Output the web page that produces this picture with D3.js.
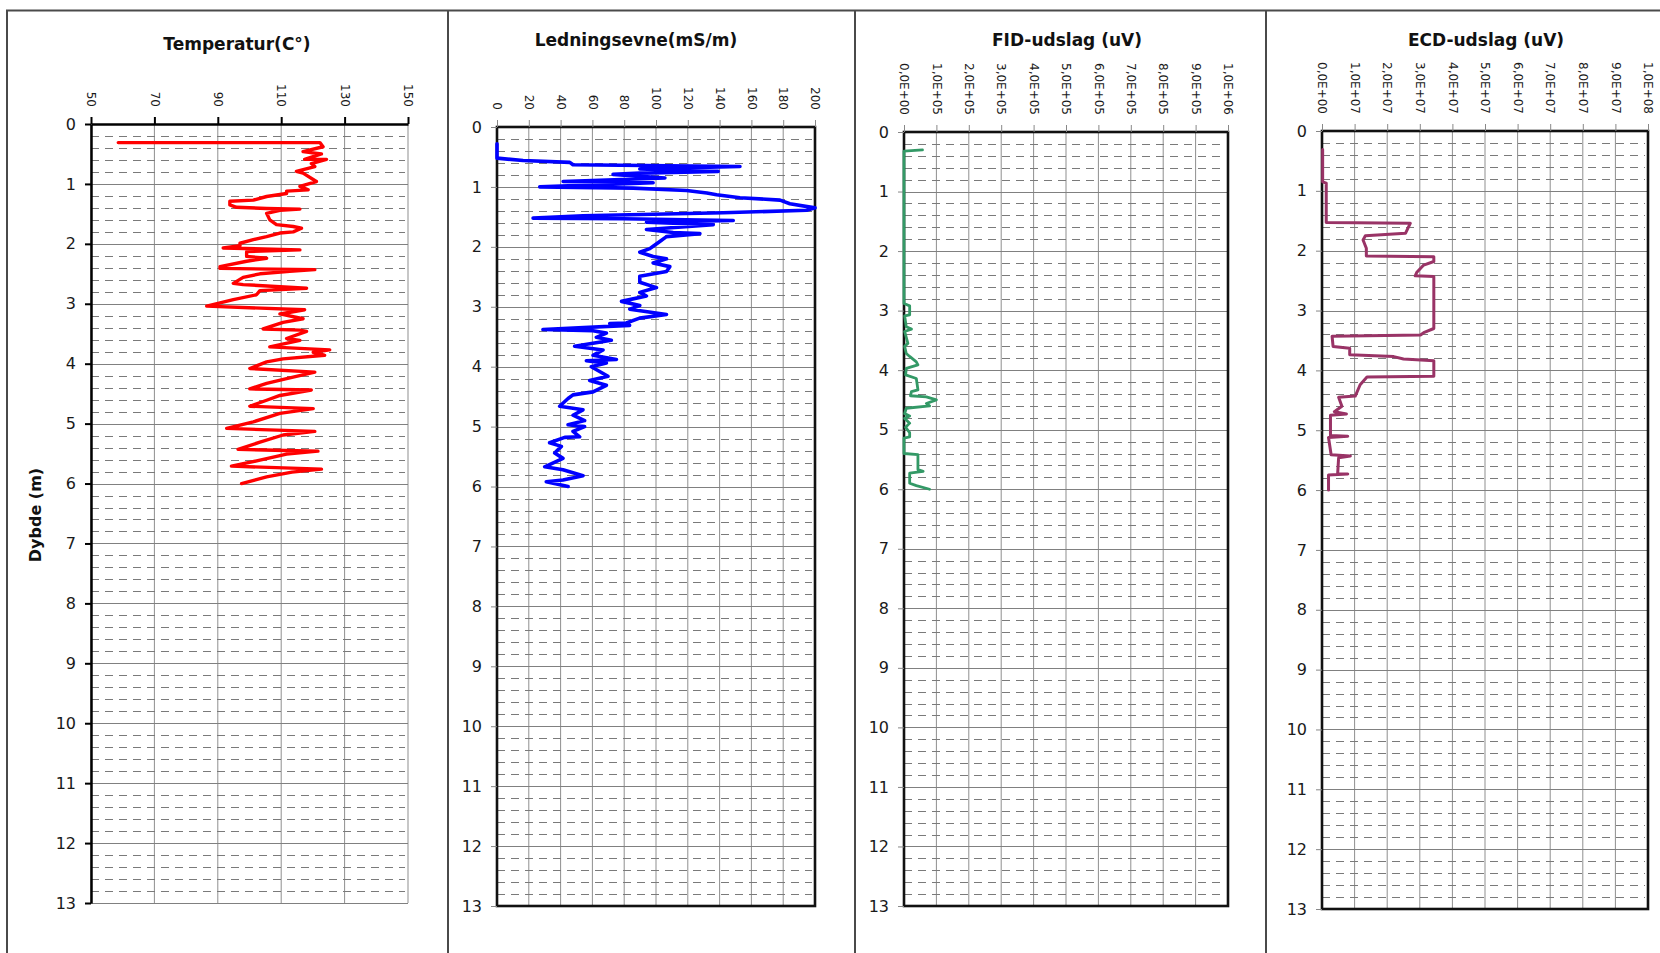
<!DOCTYPE html>
<html>
<head>
<meta charset="utf-8">
<script src="https://cdn.jsdelivr.net/npm/d3@7"></script>
<style>
  html, body { margin: 0; padding: 0; background: #fff; }
  svg { display: block; }
  text { font-family: "DejaVu Sans", Verdana, sans-serif; }
</style>
</head>
<body>
<svg id="chart" width="1660" height="953"></svg>
<script>
// ---- depth axis (shared by all four logs) ----
const depthTicks = [0, 1, 2, 3, 4, 5, 6, 7, 8, 9, 10, 11, 12, 13];
const depthLabel = "Dybde (m)";

// ---- titles ----
const titles = ["Temperatur(C°)", "Ledningsevne(mS/m)", "FID-udslag (uV)", "ECD-udslag (uV)"];

// ---- value axes ----
const tempTicks = [50, 70, 90, 110, 130, 150];
const tempTickLabels = ["50", "70", "90", "110", "130", "150"];
const condTicks = [0, 20, 40, 60, 80, 100, 120, 140, 160, 180, 200];
const condTickLabels = ["0", "20", "40", "60", "80", "100", "120", "140", "160", "180", "200"];
const fidTicks = [0, 1e5, 2e5, 3e5, 4e5, 5e5, 6e5, 7e5, 8e5, 9e5, 1e6];
const fidTickLabels = ["0,0E+00", "1,0E+05", "2,0E+05", "3,0E+05", "4,0E+05", "5,0E+05",
                       "6,0E+05", "7,0E+05", "8,0E+05", "9,0E+05", "1,0E+06"];
const ecdTicks = [0, 1e7, 2e7, 3e7, 4e7, 5e7, 6e7, 7e7, 8e7, 9e7, 1e8];
const ecdTickLabels = ["0,0E+00", "1,0E+07", "2,0E+07", "3,0E+07", "4,0E+07", "5,0E+07",
                       "6,0E+07", "7,0E+07", "8,0E+07", "9,0E+07", "1,0E+08"];

// ---- temperature log (depth m, °C) ----
const tempDepth = [
  0.31, 0.31, 0.38, 0.46, 0.50, 0.59, 0.59, 0.66, 0.71, 0.79,
  0.82, 0.96, 1.04, 1.10, 1.12, 1.16, 1.21, 1.27, 1.29, 1.35,
  1.39, 1.41, 1.42, 1.44, 1.49, 1.60, 1.68, 1.71, 1.74, 1.80,
  1.82, 1.88, 1.93, 1.99, 2.03, 2.07, 2.10, 2.13, 2.21, 2.24,
  2.29, 2.38, 2.41, 2.43, 2.46, 2.50, 2.56, 2.66, 2.68, 2.74,
  2.78, 2.85, 2.93, 3.04, 3.10, 3.17, 3.25, 3.31, 3.42, 3.44,
  3.46, 3.58, 3.61, 3.72, 3.77, 3.81, 3.86, 3.92, 3.97, 4.08,
  4.14, 4.25, 4.33, 4.42, 4.44, 4.53, 4.61, 4.71, 4.75, 4.83,
  4.97, 5.08, 5.13, 5.19, 5.31, 5.43, 5.46, 5.51, 5.61, 5.71,
  5.76, 5.81, 5.89, 6.00
];
const tempValue = [
  58.6, 122.2, 123.2, 116.9, 122.7, 117.4, 124.3, 119.5, 120.6, 114.8,
  116.9, 121.1, 115.9, 118.5, 111.7, 111.7, 105.4, 101.2, 93.8, 93.8,
  95.9, 105.4, 115.9, 109.6, 105.4, 106.4, 108.5, 113.8, 116.4, 113.8,
  109.6, 105.4, 101.2, 97.0, 97.0, 91.7, 115.9, 99.1, 99.1, 105.4,
  99.1, 90.7, 90.7, 120.6, 112.7, 103.3, 98.0, 94.9, 98.0, 118.0,
  103.3, 102.2, 94.9, 86.5, 117.4, 109.6, 116.9, 110.6, 104.3, 115.9,
  118.0, 111.7, 115.9, 106.4, 125.3, 120.1, 123.7, 110.6, 105.4, 100.1,
  120.6, 111.7, 105.4, 100.1, 119.5, 109.6, 105.4, 100.1, 120.1, 109.6,
  101.2, 92.8, 120.6, 110.6, 103.3, 96.4, 121.6, 111.7, 103.3, 94.3,
  122.7, 113.4, 105.4, 97.5
];

// ---- conductivity log (depth m, mS/m) ----
const condDepth = [
  0.28, 0.52, 0.56, 0.59, 0.63, 0.66, 0.70, 0.74, 0.77, 0.79,
  0.85, 0.91, 0.93, 1.00, 1.02, 1.06, 1.10, 1.13, 1.18, 1.22,
  1.28, 1.35, 1.39, 1.43, 1.48, 1.52, 1.53, 1.56, 1.59, 1.63,
  1.71, 1.76, 1.78, 1.83, 1.91, 1.99, 2.03, 2.09, 2.16, 2.20,
  2.27, 2.33, 2.41, 2.49, 2.59, 2.68, 2.76, 2.82, 2.91, 2.98,
  3.04, 3.13, 3.19, 3.27, 3.28, 3.31, 3.38, 3.40, 3.44, 3.51,
  3.56, 3.66, 3.72, 3.81, 3.88, 3.90, 3.94, 4.00, 4.16, 4.23,
  4.31, 4.42, 4.47, 4.53, 4.66, 4.72, 4.81, 4.90, 4.97, 5.00,
  5.08, 5.17, 5.18, 5.27, 5.33, 5.44, 5.53, 5.67, 5.72, 5.82,
  5.89, 5.92, 6.00
];
const condValue = [
  0, 0, 16.4, 45.8, 47.8, 152.8, 89.8, 139.1, 89.8, 73.0,
  105.6, 41.6, 98.2, 26.9, 85.6, 119.2, 132.0, 138.1, 152.8, 178.0,
  184.2, 200, 194.8, 142.3, 54.1, 22.7, 79.3, 148.6, 94.0, 136.0,
  94.0, 110.8, 127.6, 106.6, 102.4, 98.2, 96.1, 89.8, 98.2, 106.6,
  98.2, 108.7, 106.6, 89.8, 89.8, 100.3, 89.8, 94.0, 78.3, 89.8,
  83.5, 106.6, 89.7, 81.3, 70.9, 83.4, 28.9, 60.4, 68.8, 62.5,
  71.9, 48.8, 66.7, 60.4, 75.1, 56.2, 68.8, 59.3, 69.8, 58.3,
  68.8, 60.4, 47.8, 44.7, 39.4, 54.1, 47.8, 55.1, 44.7, 55.1,
  47.8, 52.0, 42.6, 33.1, 40.5, 36.3, 41.5, 30.0, 41.5, 54.1,
  41.5, 31.0, 44.7
];

// ---- FID log (depth m, uV) ----
const fidDepth = [
  0.30, 0.32, 2.88, 2.92, 3.07, 3.09, 3.27, 3.31, 3.35, 3.55,
  3.60, 3.72, 3.77, 3.86, 3.91, 3.97, 4.08, 4.14, 4.33, 4.36,
  4.43, 4.45, 4.50, 4.56, 4.60, 4.64, 4.73, 4.77, 4.81, 4.89,
  4.96, 5.05, 5.12, 5.14, 5.40, 5.42, 5.67, 5.70, 5.73, 5.90,
  5.94, 6.00
];
const fidValue = [
  57000, 0, 0, 17500, 17500, 2000, 7000, 23000, 2000, 12000,
  2000, 7000, 17500, 38000, 43000, 7000, 5000, 38000, 43000, 23000,
  20000, 69000, 100000, 69000, 79000, 7000, 2000, 17500, 2000, 17500,
  5000, 17500, 17500, 0, 0, 43000, 43000, 59000, 17500, 17500,
  38000, 79000
];

// ---- ECD log (depth m, uV) ----
const ecdDepth = [
  0.31, 0.85, 0.87, 1.53, 1.54, 1.71, 1.75, 1.82, 1.96, 2.09,
  2.10, 2.18, 2.24, 2.36, 2.42, 2.43, 3.30, 3.37, 3.41, 3.43,
  3.60, 3.63, 3.74, 3.77, 3.81, 3.84, 4.10, 4.11, 4.24, 4.43,
  4.45, 4.60, 4.69, 4.73, 4.75, 5.09, 5.10, 5.12, 5.41, 5.43,
  5.46, 5.73, 5.73, 5.75, 6.00
];
const ecdValue = [
  2e5, 2e5, 1.3e6, 1.3e6, 2.71e7, 2.56e7, 1.33e7, 1.26e7, 1.36e7, 1.36e7,
  3.43e7, 3.43e7, 3.12e7, 2.91e7, 2.86e7, 3.43e7, 3.43e7, 3.12e7, 3.02e7, 3.1e6,
  3.4e6, 8.5e6, 8.5e6, 2.2e7, 2.5e7, 3.43e7, 3.43e7, 1.38e7, 1.17e7, 1.02e7,
  5.1e6, 6.1e6, 3.8e6, 7.5e6, 2.6e6, 2.6e6, 7.9e6, 2.0e6, 2.8e6, 8.7e6,
  5.1e6, 4.8e6, 7.9e6, 2.0e6, 2.0e6
];

// ---- layout ----
const svg = d3.select("#chart");
const W = 1660, H = 953;

const panels = [
  { title: titles[0], titleX: 237, titleY: 50,
    x0: 91, x1: 408, y0: 124, y1: 903, domain: [50, 150],
    ticks: tempTicks, labels: tempTickLabels,
    depth: tempDepth, value: tempValue, color: "#ff0000", width: 3.4, boxed: false },
  { title: titles[1], titleX: 636, titleY: 46,
    x0: 497, x1: 815, y0: 127, y1: 906, domain: [0, 200],
    ticks: condTicks, labels: condTickLabels,
    depth: condDepth, value: condValue, color: "#0000ff", width: 3.6, boxed: true },
  { title: titles[2], titleX: 1067, titleY: 46,
    x0: 904, x1: 1228, y0: 132, y1: 906, domain: [0, 1e6],
    ticks: fidTicks, labels: fidTickLabels,
    depth: fidDepth, value: fidValue, color: "#339966", width: 2.8, boxed: true },
  { title: titles[3], titleX: 1486, titleY: 46,
    x0: 1322, x1: 1648, y0: 131, y1: 909, domain: [0, 1e8],
    ticks: ecdTicks, labels: ecdTickLabels,
    depth: ecdDepth, value: ecdValue, color: "#993366", width: 3, boxed: true }
];

// outer frame: top rule and panel separators
const frame = svg.append("g").attr("stroke", "#4a4a4a").attr("stroke-width", 2);
frame.append("line").attr("x1", 6).attr("x2", W).attr("y1", 10.5).attr("y2", 10.5);
[7, 448, 855, 1266].forEach(px => {
  frame.append("line").attr("x1", px).attr("x2", px).attr("y1", 10).attr("y2", H);
});

// minor depth grid every 0.2 m
const minorDepths = d3.range(1, 65).map(i => i / 5).filter(v => Math.abs(v - Math.round(v)) > 1e-6);

panels.forEach(p => {
  const x = d3.scaleLinear().domain(p.domain).range([p.x0, p.x1]);
  const y = d3.scaleLinear().domain([0, 13]).range([p.y0, p.y1]);
  const g = svg.append("g");

  // vertical grid at value ticks
  g.append("g").selectAll("line").data(p.ticks).join("line")
    .attr("x1", d => x(d)).attr("x2", d => x(d))
    .attr("y1", p.y0).attr("y2", p.y1)
    .attr("stroke", "#8f8f8f").attr("stroke-width", 1);

  // dashed minor depth grid
  g.append("g").selectAll("line").data(minorDepths).join("line")
    .attr("x1", p.x0).attr("x2", p.x1 - 3)
    .attr("y1", d => Math.round(y(d)) + 0.5).attr("y2", d => Math.round(y(d)) + 0.5)
    .attr("stroke", "#7a7a7a").attr("stroke-width", 1)
    .attr("stroke-dasharray", "8,6");

  // solid major depth grid
  g.append("g").selectAll("line").data(depthTicks.slice(1)).join("line")
    .attr("x1", p.x0).attr("x2", p.x1)
    .attr("y1", d => Math.round(y(d)) + 0.5).attr("y2", d => Math.round(y(d)) + 0.5)
    .attr("stroke", "#808080").attr("stroke-width", 1);

  // frame of the plotting area
  if (p.boxed) {
    g.append("rect")
      .attr("x", p.x0).attr("y", p.y0)
      .attr("width", p.x1 - p.x0).attr("height", p.y1 - p.y0)
      .attr("fill", "none").attr("stroke", "#111").attr("stroke-width", 2.6);
  }

  // depth axis
  const axisColor = p.boxed ? "#888" : "#000";
  const yAxis = g.append("g")
    .attr("transform", `translate(${p.x0},0)`)
    .call(d3.axisLeft(y).tickValues(depthTicks).tickFormat(d3.format("d"))
      .tickSizeInner(6).tickSizeOuter(0).tickPadding(9));
  yAxis.select(".domain").attr("stroke", p.boxed ? "none" : "#000").attr("stroke-width", 2.5);
  yAxis.selectAll(".tick line").attr("stroke", axisColor).attr("stroke-width", p.boxed ? 1 : 2);
  yAxis.selectAll(".tick text")
    .attr("font-size", 16).attr("fill", "#1a1a1a")
    .attr("font-family", "'DejaVu Sans', Verdana, sans-serif");

  // value axis on top with rotated labels
  const xAxis = g.append("g")
    .attr("transform", `translate(0,${p.y0})`)
    .call(d3.axisTop(x).tickValues(p.ticks).tickFormat((d, i) => p.labels[i])
      .tickSizeInner(7).tickSizeOuter(0));
  xAxis.select(".domain").attr("stroke", p.boxed ? "none" : "#000").attr("stroke-width", 2.5);
  xAxis.selectAll(".tick line").attr("stroke", axisColor).attr("stroke-width", p.boxed ? 1 : 2);
  xAxis.selectAll(".tick text")
    .attr("transform", "rotate(90)")
    .attr("x", -17).attr("y", 0).attr("dy", "0.35em")
    .attr("text-anchor", "end")
    .attr("font-size", 12).attr("fill", "#1a1a1a")
    .attr("font-family", "'DejaVu Sans', Verdana, sans-serif");

  // log curve
  const idx = d3.range(p.depth.length);
  g.append("path")
    .datum(idx)
    .attr("fill", "none")
    .attr("stroke", p.color)
    .attr("stroke-width", p.width)
    .attr("stroke-linejoin", "round")
    .attr("stroke-linecap", "round")
    .attr("d", d3.line().x(i => x(p.value[i])).y(i => y(p.depth[i])));

  // title
  svg.append("text")
    .attr("x", p.titleX).attr("y", p.titleY)
    .attr("text-anchor", "middle")
    .attr("font-size", 17).attr("font-weight", "bold").attr("fill", "#111")
    .text(p.title);
});

// depth axis title
svg.append("text")
  .attr("transform", "translate(35,515) rotate(-90)")
  .attr("text-anchor", "middle").attr("dy", "0.35em")
  .attr("font-size", 16).attr("font-weight", "bold").attr("fill", "#111")
  .text(depthLabel);
</script>
</body>
</html>
